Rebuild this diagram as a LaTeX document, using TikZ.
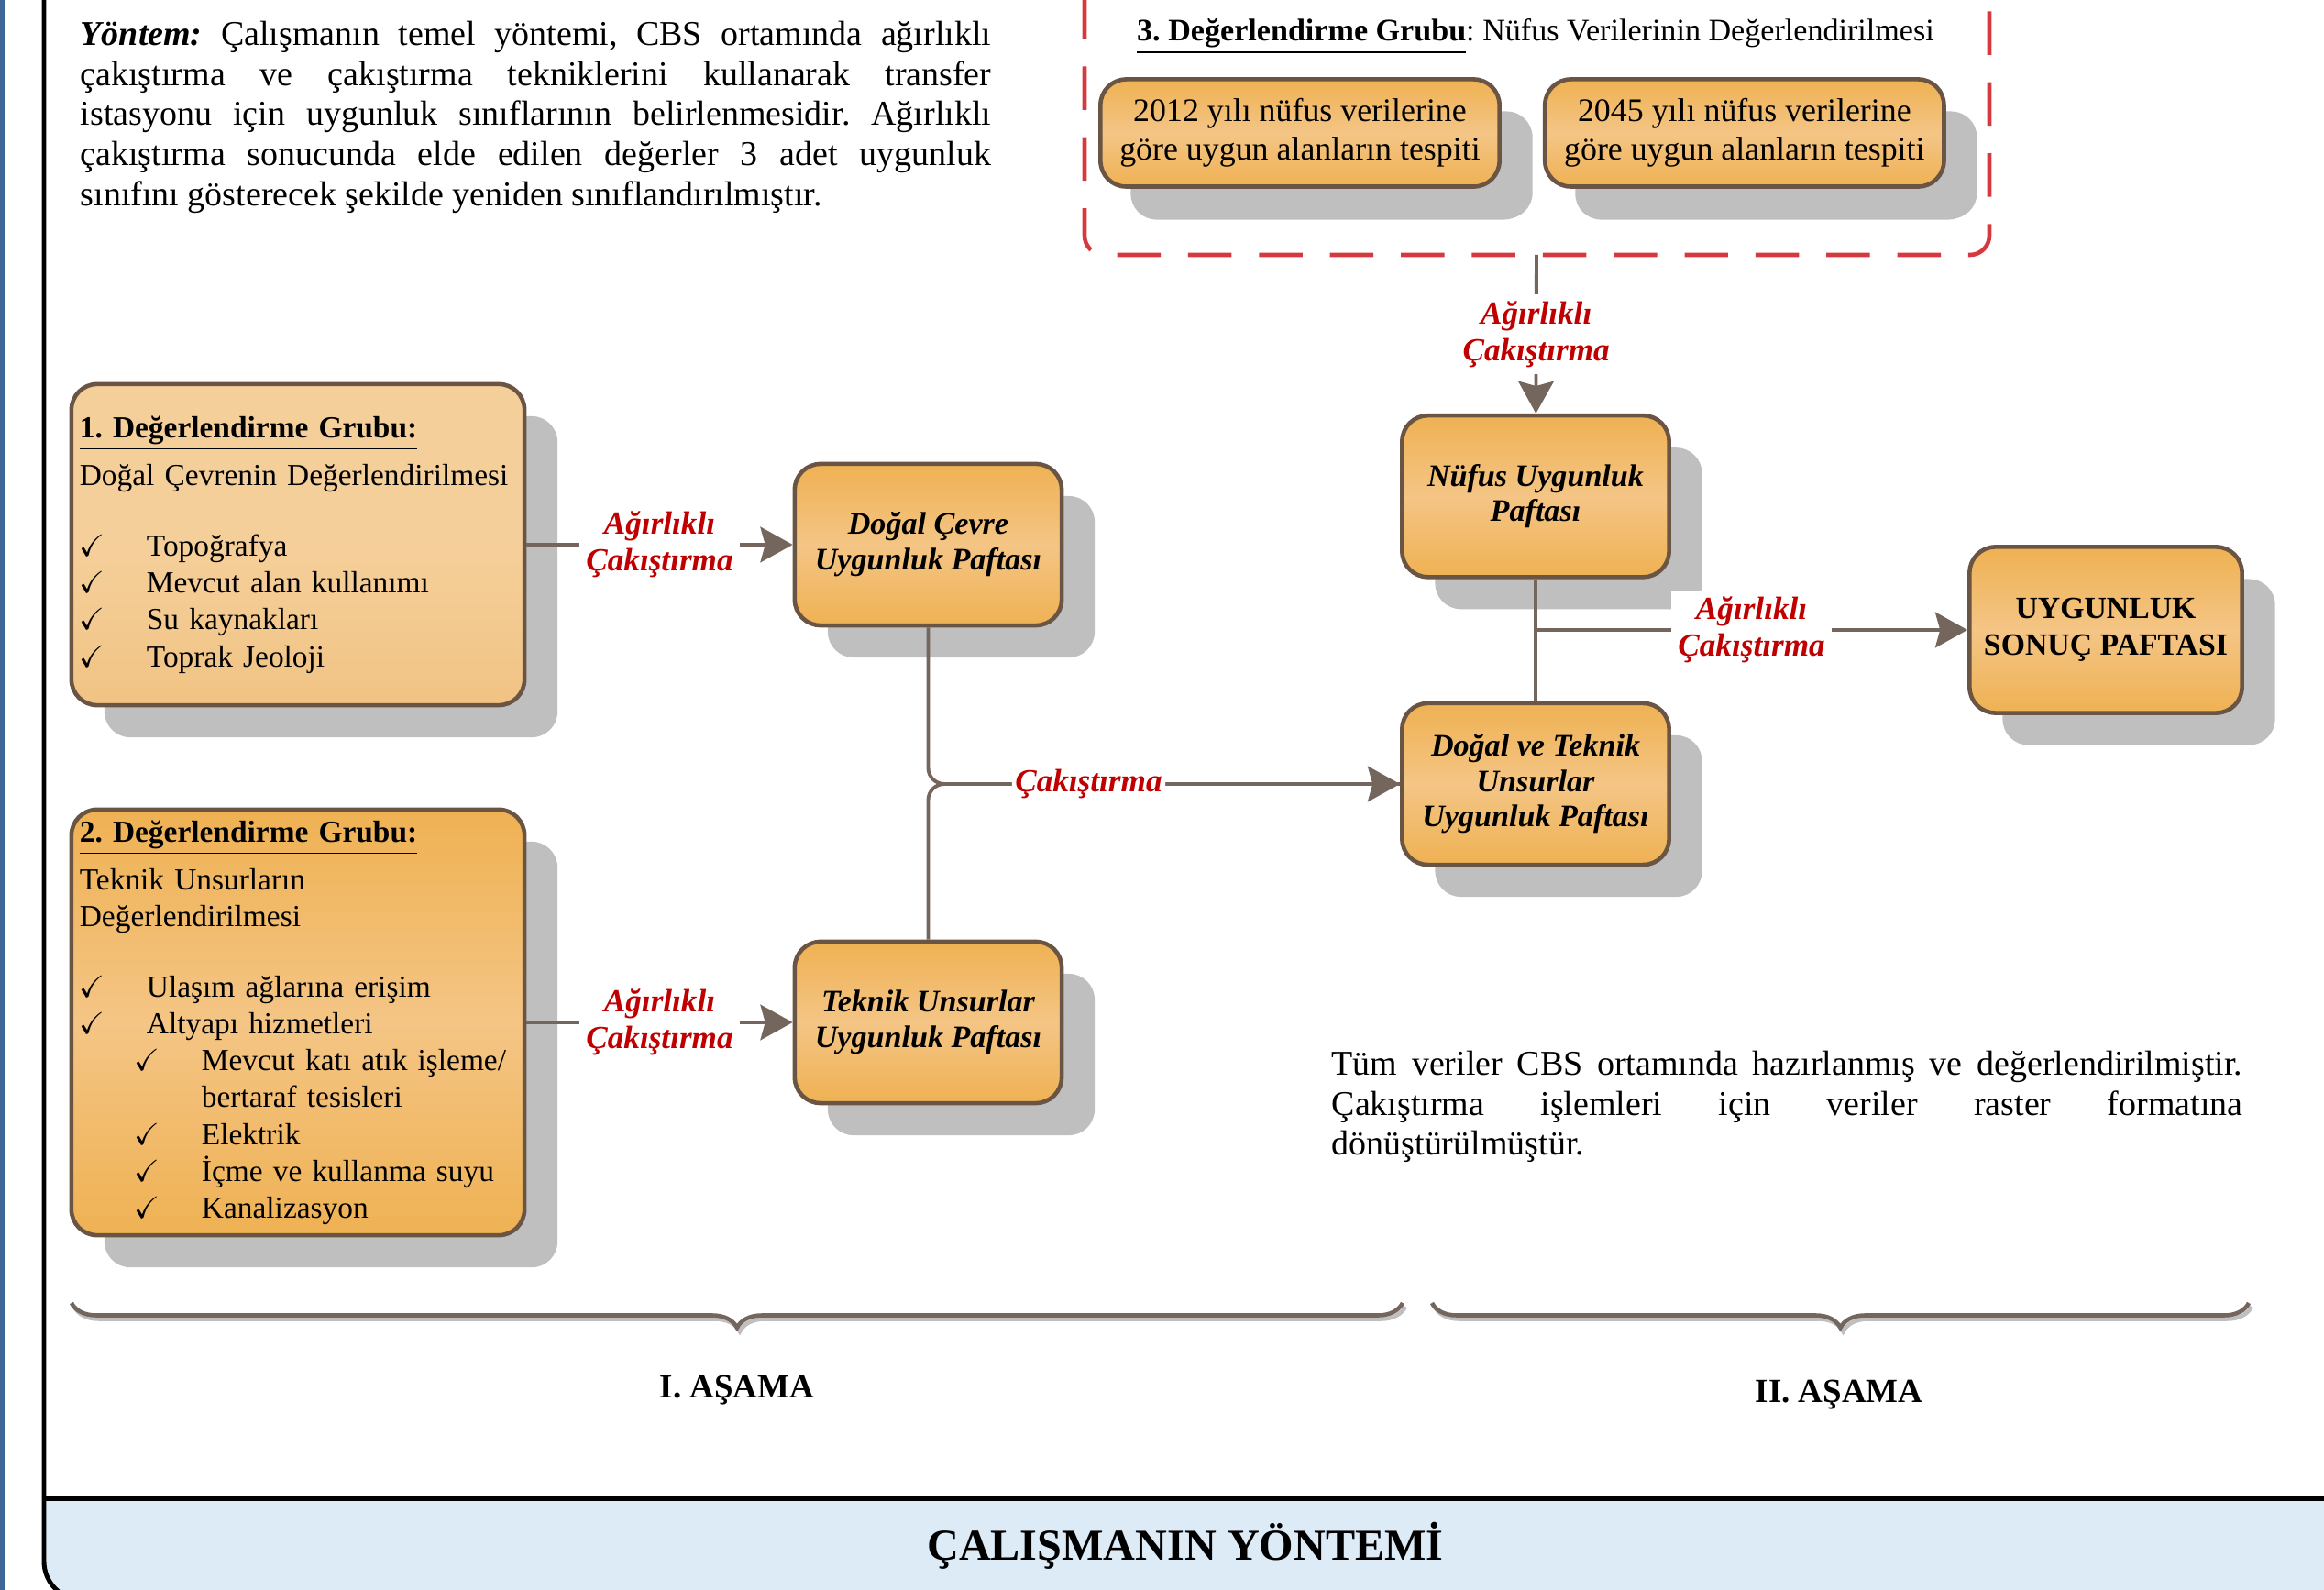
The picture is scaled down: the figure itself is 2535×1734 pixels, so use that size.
\documentclass[tikz,border=0pt]{standalone}
\usepackage{amssymb}
\usepackage{fontspec}
\setmainfont{Liberation Serif}
\usetikzlibrary{positioning, arrows.meta, decorations.pathreplacing, shadows}
\definecolor{boxorange}{HTML}{EFB153}
\definecolor{boxlight}{HTML}{F4C585}
\definecolor{grouptop}{HTML}{F5CF9A}
\definecolor{groupbot}{HTML}{F1C384}
\definecolor{boxbrown}{HTML}{6A5444}
\definecolor{shadowgray}{HTML}{BFBFBF}
\definecolor{linkgray}{HTML}{75665D}
\definecolor{labelred}{HTML}{C00000}
\definecolor{dashred}{HTML}{D5393F}
\definecolor{bannerblue}{HTML}{DDEBF7}
\definecolor{stripblue}{HTML}{3D6598}
\tikzset{
  mapbox/.style={
    draw=boxbrown,
    line width=1.3pt,
    rounded corners=8pt,
    top color=boxorange,
    bottom color=boxorange,
    middle color=boxlight,
    minimum width=2.91cm,
    minimum height=1.76cm,
    align=center,
    font=\fontsize{9.7}{11}\selectfont\bfseries\itshape,
    drop shadow={shadow xshift=0.36cm, shadow yshift=-0.35cm, opacity=1, fill=shadowgray}
  },
  groupbox/.style={
    mapbox,
    minimum width=4.94cm,
    text width=4.76cm,
    inner xsep=0.09cm,
    align=left,
    font=\fontsize{9.5}{11.4}\selectfont
  },
  popbox/.style={
    mapbox,
    minimum width=4.35cm,
    minimum height=1.17cm,
    font=\fontsize{10.2}{12}\selectfont,
    drop shadow={shadow xshift=0.33cm, shadow yshift=-0.36cm, opacity=1, fill=shadowgray}
  },
  link/.style={draw=linkgray, line width=1.1pt},
  flow/.style={link, -{Stealth[length=10pt, width=11pt, inset=1.5pt]}},
  lbl/.style={
    fill=white,
    text=labelred,
    inner sep=2pt,
    align=center,
    font=\fontsize{10}{11.4}\selectfont\bfseries\itshape
  },
  bodytext/.style={
    text width=9.93cm,
    align=justify,
    inner sep=0pt,
    font=\fontsize{10.8}{12.5}\selectfont
  },
  stage/.style={font=\fontsize{10.5}{12}\selectfont\bfseries},
  phase/.style={
    draw=linkgray,
    line width=1.3pt,
    decorate,
    decoration={brace, mirror, amplitude=0.27cm}
  }
}
\frenchspacing
\newcommand{\chkitem}{\makebox[0.73cm][l]{$\checkmark$}}
\newcommand{\subchkitem}{\hspace*{0.6cm}\makebox[0.73cm][l]{$\checkmark$}}
\begin{document}
\begin{tikzpicture}[x=0.01cm, y=-0.01cm]
  \useasboundingbox (0,0) rectangle (2535,1734);
  % page frame and title banner
  \begin{scope}
    \clip (0,0) rectangle (2535,1734);
    \fill[stripblue] (0,0) rectangle (5,1734);
    \fill[bannerblue] (48,1634) [rounded corners=12pt] -- (48,1745) -- (2600,1745) [sharp corners] -- (2600,1634) -- cycle;
    \draw[line width=1.4pt] (48,-10) [rounded corners=12pt] -- (48,1745) -- (400,1745);
    \draw[line width=1.8pt] (48,1634) -- (2600,1634);
  \end{scope}
  \node[font=\fontsize{13.7}{15}\selectfont\bfseries] (banner) at (1293,1686) {ÇALIŞMANIN YÖNTEMİ};

  \node[bodytext, anchor=north west] (method) at (87,22) {\textbf{\textit{Yöntem:}} Çalışmanın temel yöntemi, CBS ortamında ağırlıklı\linebreak çakıştırma ve çakıştırma tekniklerini kullanarak transfer\linebreak istasyonu için uygunluk sınıflarının belirlenmesidir. Ağırlıklı\linebreak çakıştırma sonucunda elde edilen değerler 3 adet uygunluk\linebreak sınıfını gösterecek şekilde yeniden sınıflandırılmıştır.};

  % 3. group (population)
  \draw[dashred, line width=1.3pt, dash pattern=on 13.5pt off 8.5pt, rounded corners=6pt] (1183,-5) -- (1183,278) -- (2170,278) -- (2170,-5);
  \coordinate (grp3) at (1676,278);
  \node[font=\fontsize{9.7}{11}\selectfont] (grp3title) at (1675,40) {\textbf{\underline{3. Değerlendirme Grubu}}: Nüfus Verilerinin Değerlendirilmesi};
  \node[popbox] (n2012) at (1418,145) {2012 yılı nüfus verilerine\\göre uygun alanların tespiti};
  \node[popbox, right=0.45cm of n2012] (n2045) {2045 yılı nüfus verilerine\\göre uygun alanların tespiti};

  % 1. and 2. groups
  \node[groupbox, minimum height=3.5cm, top color=grouptop, bottom color=groupbot, middle color=grouptop] (g1) at (325,594) {%
    \underline{\textbf{1. Değerlendirme Grubu:}}\\[3.4pt]
    Doğal Çevrenin Değerlendirilmesi\\[10.6pt]
    \chkitem Topoğrafya\\
    \chkitem Mevcut alan kullanımı\\
    \chkitem Su kaynakları\\
    \chkitem Toprak Jeoloji};
  \node[groupbox, minimum height=4.64cm] (g2) at (325,1115) {%
    \underline{\textbf{2. Değerlendirme Grubu:}}\\[3.4pt]
    Teknik Unsurların\\
    Değerlendirilmesi\\[10.6pt]
    \chkitem Ulaşım ağlarına erişim\\
    \chkitem Altyapı hizmetleri\\
    \subchkitem Mevcut katı atık işleme/\\
    \hspace*{1.33cm}bertaraf tesisleri\\
    \subchkitem Elektrik\\
    \subchkitem İçme ve kullanma suyu\\
    \subchkitem Kanalizasyon};

  % suitability maps
  \node[mapbox, right=2.9cm of g1] (dogal) {Doğal Çevre\\Uygunluk Paftası};
  \node[mapbox, right=2.9cm of g2] (teknik) {Teknik Unsurlar\\Uygunluk Paftası};
  \node[mapbox] (dogalteknik) at (1675,855) {Doğal ve Teknik\\Unsurlar\\Uygunluk Paftası};
  \node[mapbox, above=1.33cm of dogalteknik] (nufus) {Nüfus Uygunluk\\Paftası};
  \node[mapbox, minimum width=2.97cm, minimum height=1.81cm, font=\fontsize{9.6}{11.4}\selectfont\bfseries] (sonuc) at (2297,687) {UYGUNLUK\\SONUÇ PAFTASI};

  % connections
  \draw[flow] (g1) -- node[lbl] {Ağırlıklı\\Çakıştırma} (dogal);
  \draw[flow] (g2) -- node[lbl] {Ağırlıklı\\Çakıştırma} (teknik);
  \draw[link, rounded corners=5pt] (teknik) |- (dogalteknik);
  \draw[flow, rounded corners=5pt] (dogal) |- node[lbl, pos=0.67, inner sep=1pt] {Çakıştırma} (dogalteknik);
  \draw[flow] (grp3) -- node[lbl] {Ağırlıklı\\Çakıştırma} (nufus);
  \draw[link] (nufus) -- (dogalteknik);
  \draw[flow] (nufus |- sonuc) -- node[lbl] {Ağırlıklı\\Çakıştırma} (sonuc);

  \node[bodytext, anchor=north west] (note) at (1452,1145) {Tüm veriler CBS ortamında hazırlanmış ve değerlendirilmiştir.\linebreak Çakıştırma işlemleri için veriler raster formatına\linebreak dönüştürülmüştür.};

  % stages
  \draw[phase, draw=shadowgray] (81,1425) -- (1533,1425);
  \draw[phase] (78,1421) -- (1530,1421);
  \draw[phase, draw=shadowgray] (1565,1425) -- (2456,1425);
  \draw[phase] (1562,1421) -- (2453,1421);
  \node[stage] (stage1) at (804,1516) {I. AŞAMA};
  \node[stage] (stage2) at (2006,1521) {II. AŞAMA};
\end{tikzpicture}
\end{document}
